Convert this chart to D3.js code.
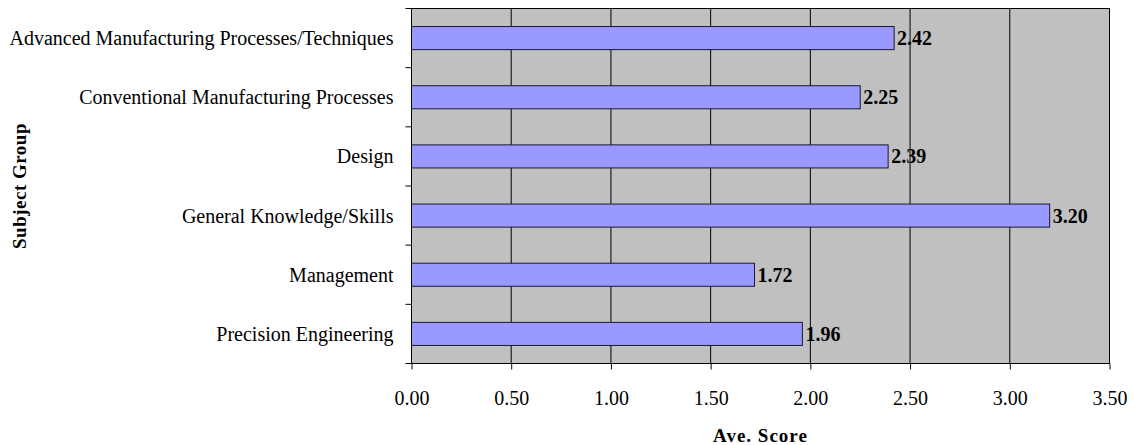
<!DOCTYPE html>
<html>
<head>
<meta charset="utf-8">
<script src="https://cdn.jsdelivr.net/npm/d3@7"></script>
<style>
  body { margin: 0; background: #fff; }
  text { font-family: "Liberation Serif", "Times New Roman", serif; fill: #000; }
</style>
</head>
<body>
<svg id="chart" width="1135" height="445"></svg>
<script>
// data
var categories = ["Advanced Manufacturing Processes/Techniques", "Conventional Manufacturing Processes",
  "Design", "General Knowledge/Skills", "Management", "Precision Engineering"]
var scores = [2.42, 2.25, 2.39, 3.20, 1.72, 1.96]
var xTicks = [0, 0.5, 1, 1.5, 2, 2.5, 3, 3.5]

var svg = d3.select("#chart")
var pLeft = 411.5, pRight = 1109.5, pTop = 8.5, pBottom = 363.5

var x = d3.scaleLinear().domain([0, 3.5]).range([pLeft, pRight])
var y = d3.scaleBand().domain(categories).range([pTop, pBottom]).paddingInner(0.61).paddingOuter(0.305)
var band = (pBottom - pTop) / categories.length

// plot background
svg.append("rect")
  .attr("x", pLeft).attr("y", pTop)
  .attr("width", pRight - pLeft).attr("height", pBottom - pTop)
  .style("fill", "#c0c0c0")

// vertical gridlines
svg.selectAll(".grid").data(xTicks.slice(1)).enter().append("line")
  .attr("x1", d => x(d)).attr("x2", d => x(d))
  .attr("y1", pTop).attr("y2", pBottom)
  .style("stroke", "#000").style("stroke-width", 1)

// border
svg.append("rect")
  .attr("x", pLeft).attr("y", pTop)
  .attr("width", pRight - pLeft).attr("height", pBottom - pTop)
  .style("fill", "none").style("stroke", "#000").style("stroke-width", 1)

// bars
svg.selectAll(".bar").data(scores).enter().append("rect")
  .attr("x", x(0))
  .attr("y", (d, i) => y(categories[i]))
  .attr("width", d => x(d) - x(0))
  .attr("height", y.bandwidth())
  .style("fill", "#9999ff").style("stroke", "#1a1a33").style("stroke-width", 1)

// value labels
svg.selectAll(".val").data(scores).enter().append("text")
  .attr("x", d => x(d) + 3)
  .attr("y", (d, i) => y(categories[i]) + y.bandwidth() / 2)
  .attr("dy", "0.35em")
  .style("font-size", "20px").style("font-weight", "bold")
  .text(d => d.toFixed(2))

// x axis
var xAxis = d3.axisBottom(x).tickValues(xTicks).tickFormat(d3.format(".2f")).tickSize(6).tickPadding(21)
var gx = svg.append("g").attr("transform", "translate(0," + pBottom + ")").call(xAxis)
gx.select(".domain").remove()
gx.selectAll("text").style("font-size", "20px").style("font-family", "Liberation Serif")

// y axis: category labels and boundary ticks
var bounds = d3.range(categories.length + 1).map(i => pTop + i * band)
svg.selectAll(".ytick").data(bounds).enter().append("line")
  .attr("x1", pLeft - 6).attr("x2", pLeft)
  .attr("y1", d => d).attr("y2", d => d)
  .style("stroke", "#000")
svg.append("line").attr("x1", pLeft).attr("x2", pLeft).attr("y1", pTop).attr("y2", pBottom).style("stroke", "#000")
svg.selectAll(".cat").data(categories).enter().append("text")
  .attr("x", pLeft - 18)
  .attr("y", d => y(d) + y.bandwidth() / 2)
  .attr("dy", "0.35em")
  .attr("text-anchor", "end")
  .style("font-size", "20px")
  .text(d => d)

// axis titles
svg.append("text").attr("x", (pLeft + pRight) / 2).attr("y", 442)
  .attr("text-anchor", "middle").style("font-size", "19px").style("font-weight", "bold")
  .style("letter-spacing", "1px")
  .text("Ave. Score")
svg.append("text").attr("transform", "translate(26," + ((pTop + pBottom) / 2) + ") rotate(-90)")
  .attr("text-anchor", "middle").style("font-size", "19px").style("font-weight", "bold")
  .style("letter-spacing", "0.5px")
  .text("Subject Group")
</script>
</body>
</html>
